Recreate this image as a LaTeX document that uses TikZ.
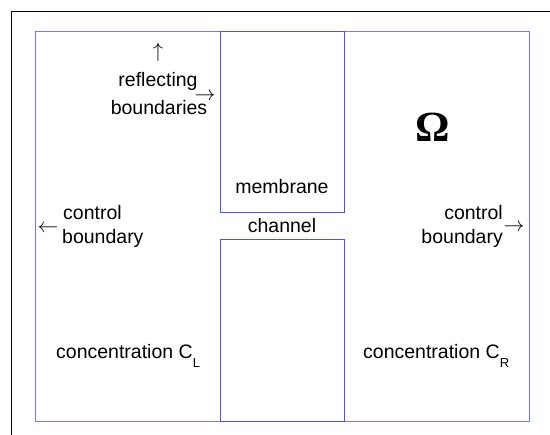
\documentclass[tikz,border=0pt]{standalone}
\usepackage{fontspec}
\setmainfont{Liberation Sans}
\newfontfamily\omegafont{Liberation Serif}
\definecolor{wallblue}{RGB}{80,80,245}
\definecolor{domblue}{RGB}{120,120,255}
\begin{document}
\begin{tikzpicture}[x=1pt,y=-1pt,
  wall/.style={draw=wallblue,line width=1pt},
  dom/.style={draw=domblue,line width=1.3pt},
  lbl/.style={inner sep=0pt,font=\fontsize{19.5}{21}\selectfont,anchor=base},
  arr/.style={inner sep=0pt,font=\fontsize{21}{23}\selectfont}]
\useasboundingbox (0,0) rectangle (550,435);
\fill[white] (0,0) rectangle (550,435);
% outer frame (top and left visible)
\coordinate (fA) at (11.5,435);
\coordinate (fB) at (11.5,11.5);
\coordinate (fC) at (550,11.5);
\draw[black,line width=1pt] (fA) -- (fB) -- (fC);
% domain
\coordinate (d1) at (35.5,31.5);
\coordinate (d2) at (529.5,421.5);
\draw[dom] (d1) rectangle (d2);
% membrane blocks
\coordinate (m1) at (220.5,31.5);
\coordinate (m2) at (344.5,212.5);
\draw[wall] (m1) rectangle (m2);
\coordinate (n1) at (220.5,239.5);
\coordinate (n2) at (344.5,421.5);
\draw[wall] (n1) rectangle (n2);
% labels
\node[arr] (up) at (158,52) {$\uparrow$};
\node[lbl] (refl) at (158,87) {reflecting};
\node[lbl] (bnd) at (159,115) {boundaries};
\node[arr] (rarr) at (205,97) {$\rightarrow$};
\node[lbl] (mem) at (282,194) {membrane};
\node[lbl] (chan) at (282,233) {channel};
\node[lbl,anchor=base west] (lc) at (63,220) {control};
\node[lbl,anchor=base west] (lb) at (62,244) {boundary};
\node[arr] (larr) at (48,229) {$\leftarrow$};
\node[lbl,anchor=base east] (rc) at (503,220) {control};
\node[lbl,anchor=base east] (rb) at (503,244) {boundary};
\node[arr] (rarr2) at (514,228) {$\rightarrow$};
\node[inner sep=0pt,font=\omegafont\bfseries\fontsize{43}{43}\selectfont,anchor=base] (om) at (433,142) {Ω};
\node[lbl,anchor=base west] (cl) at (56,359) {concentration C\raisebox{-9pt}{\fontsize{13}{13}\selectfont L}};
\node[lbl,anchor=base west] (cr) at (363,359) {concentration C\raisebox{-9pt}{\fontsize{13}{13}\selectfont R}};
\end{tikzpicture}
\end{document}
